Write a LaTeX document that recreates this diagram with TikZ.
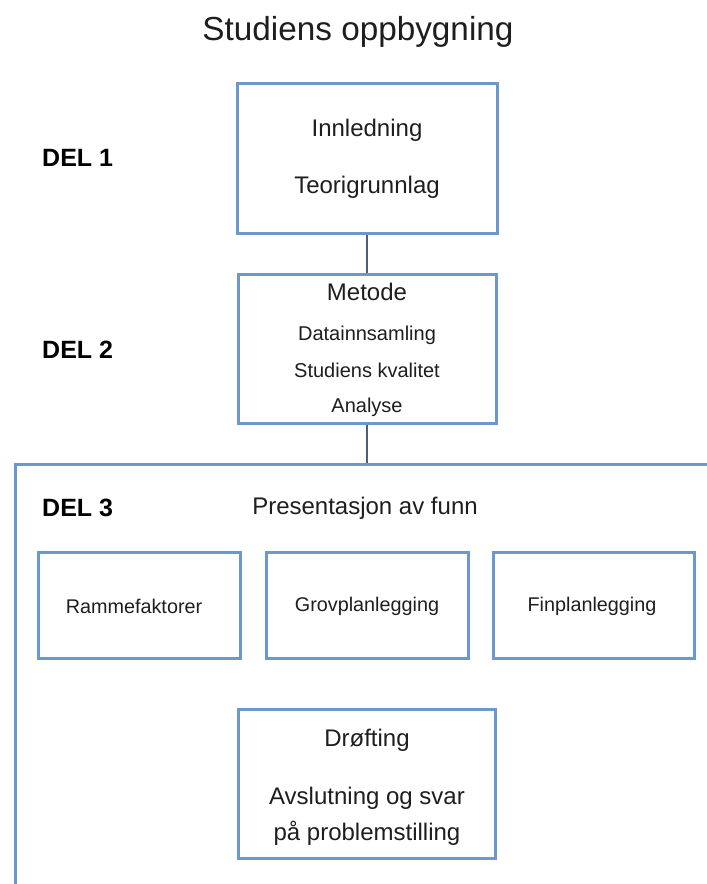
\documentclass[tikz,border=0pt]{standalone}
\usepackage{fontspec}
\setmainfont{Liberation Sans}
\definecolor{boxblue}{RGB}{108,152,206}
\definecolor{txt}{RGB}{30,30,30}
\definecolor{conn}{RGB}{80,95,115}
\begin{document}
\begin{tikzpicture}[x=1pt,y=-1pt,
  bluebox/.style={draw=boxblue,line width=3pt,fill=white,rectangle,inner sep=0pt},
  lbl/.style={text=txt,inner sep=0pt,anchor=center},
  big/.style={lbl,font=\fontsize{24}{28}\selectfont},
  small/.style={lbl,font=\fontsize{20}{24}\selectfont},
  smaller/.style={lbl,font=\fontsize{19.8}{23}\selectfont},
  del/.style={lbl,anchor=west,font=\bfseries\fontsize{25}{30}\selectfont,text=black},
  conline/.style={draw=conn,line width=1.5pt}]
\useasboundingbox (0,0) rectangle (707,884);
\fill[white] (0,0) rectangle (707,884);
% title
\node[lbl,font=\fontsize{33.3}{38}\selectfont] (title) at (358,32) {Studiens oppbygning};
% big DEL 3 container (extends past right and bottom edges)
\node[bluebox,minimum width=710pt,minimum height=440pt] (del3box) at (370,684) {};
% box 1
\node[bluebox,minimum width=260pt,minimum height=150pt] (box1) at (367,158) {};
\node[big] (innl) at (367,130) {Innledning};
\node[big] (teori) at (367,187) {Teorigrunnlag};
% box 2
\node[bluebox,minimum width=258pt,minimum height=149pt] (box2) at (367,348.5) {};
\node[big] (metode) at (367,292) {Metode};
\node[small] (data) at (367,335) {Datainnsamling};
\node[small] (kval) at (367,370) {Studiens kvalitet};
\node[small] (anal) at (367,407) {Analyse};
% connectors
\draw[conline] (box1.south) -- (box2.north);
\draw[conline] (box2.south) -- (box2.south |- del3box.north);
% DEL labels
\node[del] (del1) at (42,158) {DEL 1};
\node[del] (del2) at (42,350) {DEL 2};
\node[del] (del3) at (42,508) {DEL 3};
\node[big] (pres) at (365,508) {Presentasjon av funn};
% three boxes
\node[bluebox,minimum width=202pt,minimum height=106pt] (ramme) at (139,605) {};
\node[smaller] (rammet) at (134,606) {Rammefaktorer};
\node[bluebox,minimum width=202pt,minimum height=106pt] (grov) at (367,605) {};
\node[smaller] (grovt) at (367,606) {Grovplanlegging};
\node[bluebox,minimum width=201pt,minimum height=106pt] (fin) at (594,605) {};
\node[smaller] (fint) at (592,606) {Finplanlegging};
% bottom box
\node[bluebox,minimum width=257pt,minimum height=149pt] (drof) at (366.5,783.5) {};
\node[big] (droft) at (367,740) {Drøfting};
\node[big] (avsl) at (367,798) {Avslutning og svar};
\node[big] (paa) at (367,833) {på problemstilling};
\end{tikzpicture}
\end{document}
